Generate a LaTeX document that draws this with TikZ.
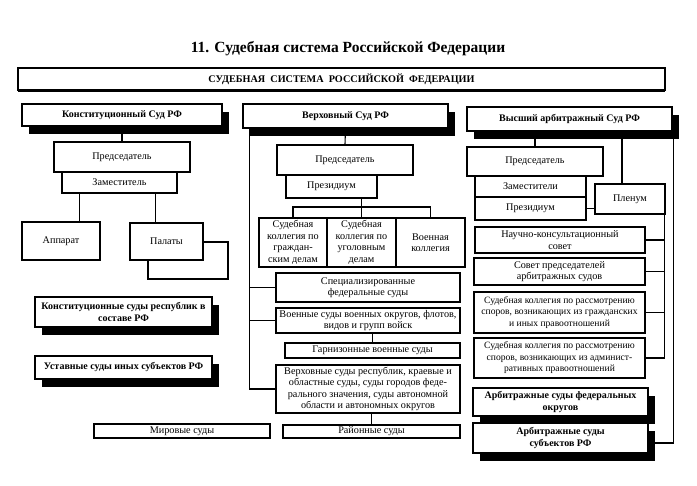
\documentclass[tikz,border=0pt]{standalone}
\usepackage{fontspec}
\setmainfont{Liberation Serif}
\usetikzlibrary{shadows}

\begin{document}
\begin{tikzpicture}[x=1pt,y=-1pt,
    dims/.style 2 args={minimum width=#1pt,minimum height=#2pt},
    box/.style={draw=black,line width=1.1pt,fill=white,inner sep=0pt,align=center,font=\fontsize{10.2}{11.5}\selectfont},
    small/.style={font=\fontsize{9.6}{11.5}\selectfont},
    court/.style={box,font=\bfseries\fontsize{10}{11.5}\selectfont,
        drop shadow={shadow xshift=7pt,shadow yshift=-8pt,fill=black,opacity=1}},
    link/.style={draw=black,line width=1.1pt}]
    \useasboundingbox (0,0) rectangle (697,486);

    \node[font=\bfseries\fontsize{15.5}{17}\selectfont] (title) at (348,49) {11. Судебная система Российской Федерации};
    \node[box,dims={647}{22},line width=1.4pt,font=\bfseries\fontsize{10.2}{11}\selectfont,
        drop shadow={shadow xshift=0pt,shadow yshift=-2pt,fill=black,opacity=1}] (top) at (341.5,79)
        {СУДЕБНАЯ\ \ СИСТЕМА\ \ РОССИЙСКОЙ\ \ ФЕДЕРАЦИИ};

    % Конституционный Суд
    \node[court,dims={200}{22}] (kHead) at (122,115) {Конституционный Суд РФ};
    \node[box,dims={136}{30}] (kPred) at (122,157) {Председатель};
    \node[box,dims={115}{21}] (kZam) at (119.5,182.5) {Заместитель};
    \node[box,dims={78}{38}] (kApp) at (61,241) {Аппарат};
    \node[box,dims={80}{37}] (kPalB) at (188,260.5) {};
    \node[box,dims={73}{37}] (kPal) at (166.5,241.5) {Палаты};
    \node[court,dims={177}{30}] (kRes) at (123.5,312) {Конституционные суды республик в\\ составе РФ};
    \node[court,dims={177}{23}] (kUst) at (123.5,367.5) {Уставные суды иных субъектов РФ};
    \node[box,dims={176}{14}] (mir) at (182,431) {Мировые суды};

    \draw[link] (kHead.south) -- (kPred.north);
    \draw[link] ([xshift=18pt]kZam.south west) -- ([xshift=18pt]kZam.south west |- kApp.north);
    \draw[link] ([xshift=-22pt]kZam.south east) -- ([xshift=-22pt]kZam.south east |- kPal.north);

    % Верховный Суд
    \node[court,dims={205}{24}] (vHead) at (345.5,116) {Верховный Суд РФ};
    \node[box,dims={136}{30}] (vPred) at (345,160) {Председатель};
    \node[box,dims={91}{23}] (vPrez) at (331.5,186.5) {Президиум};
    \node[box,dims={68}{49}] (vKol1) at (293,242.5) {Судебная\\ коллегия по\\ граждан-\\ ским делам};
    \node[box,dims={69}{49}] (vKol2) at (361.5,242.5) {Судебная\\ коллегия по\\ уголовным\\ делам};
    \node[box,dims={69}{49}] (vKol3) at (430.5,242.5) {Военная\\ коллегия};
    \node[box,dims={184}{29}] (vSpec) at (368,287.5) {Специализированные\\ федеральные суды};
    \node[box,dims={184}{25}] (vVoen) at (368,320.5) {Военные суды военных округов, флотов,\\ видов и групп войск};
    \node[box,dims={175}{15}] (vGarn) at (372.5,350.5) {Гарнизонные военные суды};
    \node[box,dims={184}{48}] (vVerkh) at (368,389) {Верховные суды республик, краевые и\\ областные суды, суды городов феде-\\ рального значения, суды автономной\\ области и автономных округов};
    \node[box,dims={177}{13}] (vRai) at (371.5,431.5) {Районные суды};

    \coordinate (vFork) at (361.5,207);
    \coordinate (vTrunk) at ([xshift=7pt]vHead.south west);
    \draw[link] (vHead.south) -- (vPred.north);
    \draw[link] (vKol2.north |- vPrez.south) -- (vKol2.north);
    \draw[link] (vKol1.north) |- (vFork) -| (vKol3.north);
    \draw[link] (vTrunk) |- (vVerkh.west);
    \draw[link] (vTrunk |- vSpec.west) -- (vSpec.west);
    \draw[link] (vTrunk |- vVoen.west) -- (vVoen.west);
    \draw[link] (vGarn.north |- vVoen.south) -- (vGarn.north);
    \draw[link] (vRai.north |- vVerkh.south) -- (vRai.north);

    % Высший арбитражный Суд
    \node[court,dims={205}{24}] (aHead) at (569.5,119) {Высший арбитражный Суд РФ};
    \node[box,dims={136}{29}] (aPred) at (535,161.5) {Председатель};
    \node[box,dims={111}{21}] (aZam) at (530.5,186.5) {Заместители};
    \node[box,dims={111}{23}] (aPrez) at (530.5,208.5) {Президиум};
    \node[box,dims={70}{30}] (aPlen) at (630,199) {Пленум};
    \node[box,dims={170}{26}] (aNauch) at (560,240) {Научно-консультационный\\ совет};
    \node[box,dims={171}{27}] (aSovet) at (559.5,271.5) {Совет председателей\\ арбитражных судов};
    \node[box,small,dims={171}{41}] (aKolG) at (559.5,312.5) {Судебная коллегия по рассмотрению\\ споров, возникающих из гражданских\\ и иных правоотношений};
    \node[box,small,dims={171}{40}] (aKolA) at (559.5,358) {Судебная коллегия по рассмотрению\\ споров, возникающих из админист-\\ ративных правоотношений};
    \node[court,dims={175}{28}] (aFed) at (560.5,402) {Арбитражные суды федеральных\\ округов};
    \node[court,dims={175}{30}] (aSubj) at (560.5,438) {Арбитражные суды\\ субъектов РФ};

    \coordinate (aInner) at ([xshift=-1pt]aPlen.south east);
    \coordinate (aOuter) at ([xshift=1pt]aHead.south east);
    \draw[link] (aPred.north |- aHead.south) -- (aPred.north);
    \draw[link] ([xshift=-8pt]aPlen.north |- aHead.south) -- ([xshift=-8pt]aPlen.north);
    \draw[link] (aPrez.east) -- (aPrez.east -| aPlen.west);
    \draw[link] (aInner) |- (aKolA.east);
    \draw[link] (aInner |- aNauch.east) -- (aNauch.east);
    \draw[link] (aInner |- aSovet.east) -- (aSovet.east);
    \draw[link] (aInner |- aKolG.east) -- (aKolG.east);
    \draw[link] (aOuter) |- ([yshift=-5pt]aSubj.east);
\end{tikzpicture}
\end{document}
